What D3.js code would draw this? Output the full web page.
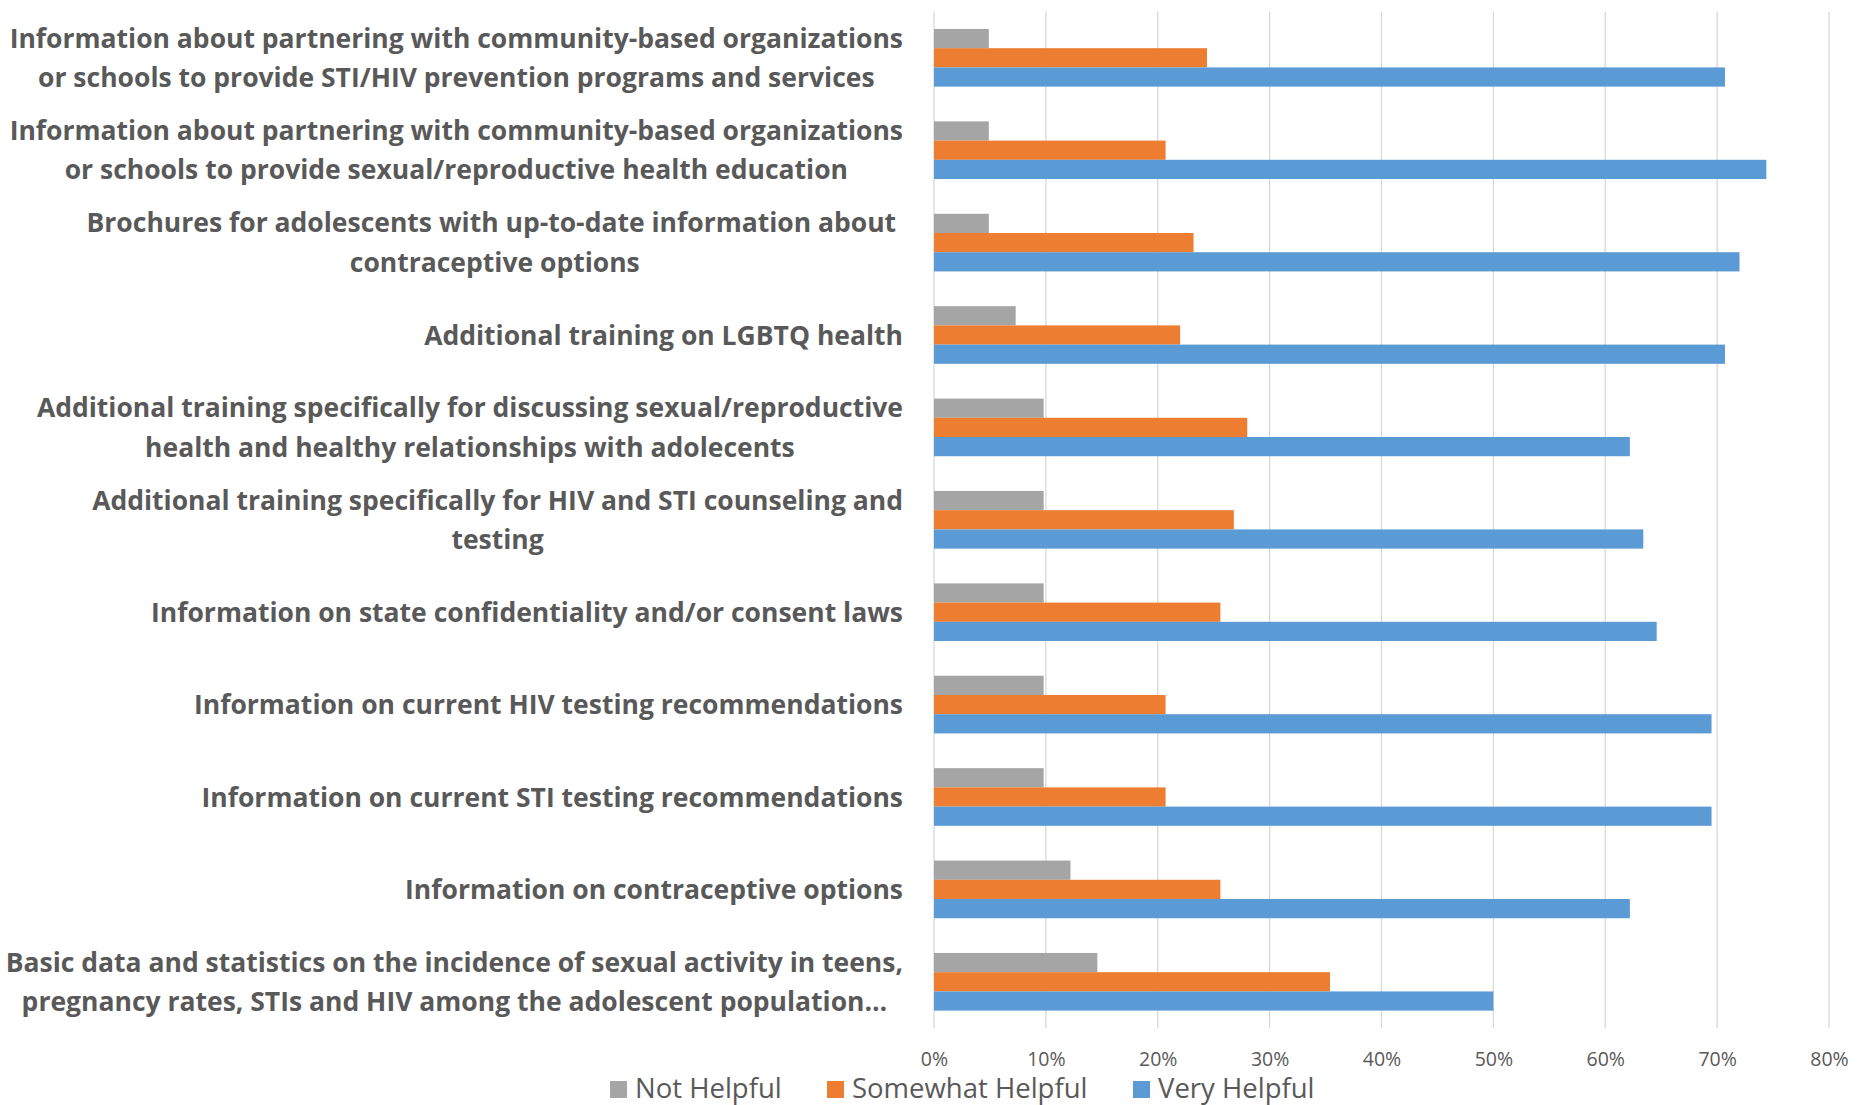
<!DOCTYPE html>
<html>
<head>
<meta charset="utf-8">
<script src="https://cdn.jsdelivr.net/npm/d3@7"></script>
<style>
    body { margin: 0; background: #ffffff; }
    text { font-family: "Open Sans", sans-serif; fill: #595959; }
</style>
</head>
<body>
<div id="chart"></div>
<script>
// Category labels, already broken into lines as in the reference
const categories = [
    ["Information about partnering with community-based organizations", "or schools to provide STI/HIV prevention programs and services"],
    ["Information about partnering with community-based organizations", "or schools to provide sexual/reproductive health education"],
    ["Brochures for adolescents with up-to-date information about ", "contraceptive options"],
    ["Additional training on LGBTQ health"],
    ["Additional training specifically for discussing sexual/reproductive", "health and healthy relationships with adolecents"],
    ["Additional training specifically for HIV and STI counseling and", "testing"],
    ["Information on state confidentiality and/or consent laws"],
    ["Information on current HIV testing recommendations"],
    ["Information on current STI testing recommendations"],
    ["Information on contraceptive options"],
    ["Basic data and statistics on the incidence of sexual activity in teens,", "pregnancy rates, STIs and HIV among the adolescent population\u2026"]
];

// Percent values per series (same order as categories)
const notHelpful      = [4.9, 4.9, 4.9, 7.3, 9.8, 9.8, 9.8, 9.8, 9.8, 12.2, 14.6];
const somewhatHelpful = [24.4, 20.7, 23.2, 22.0, 28.0, 26.8, 25.6, 20.7, 20.7, 25.6, 35.4];
const veryHelpful     = [70.7, 74.4, 72.0, 70.7, 62.2, 63.4, 64.6, 69.5, 69.5, 62.2, 50.0];

const seriesNames  = ["Not Helpful", "Somewhat Helpful", "Very Helpful"];
const seriesColors = ["#A5A5A5", "#ED7D31", "#5B9BD5"];
const tickValues   = [0, 10, 20, 30, 40, 50, 60, 70, 80];

const width = 1876;
const height = 1105;
const plot = { left: 934, right: 1829, top: 11.6, bottom: 1028 };

const seriesValues = [notHelpful, somewhatHelpful, veryHelpful];
const rows = categories.map((lines, i) => ({
    index: i,
    lines: lines,
    values: seriesValues.map((arr, s) => ({ series: s, value: arr[i] }))
}));

const svg = d3.select("#chart").append("svg")
    .attr("width", width)
    .attr("height", height);

const x = d3.scaleLinear()
    .domain([0, 80])
    .range([plot.left, plot.right]);

const y = d3.scaleBand()
    .domain(d3.range(categories.length))
    .range([plot.top, plot.bottom])
    .paddingInner(0.376)
    .paddingOuter(0.188);

const ySub = d3.scaleBand()
    .domain(d3.range(seriesNames.length))
    .range([0, y.bandwidth()]);

// gridlines
svg.append("g")
    .selectAll("line")
    .data(tickValues)
    .enter().append("line")
    .attr("x1", d => x(d))
    .attr("x2", d => x(d))
    .attr("y1", plot.top)
    .attr("y2", plot.bottom)
    .style("stroke", "#d9d9d9")
    .style("stroke-width", 1.3);

// bars
const groups = svg.append("g")
    .selectAll("g")
    .data(rows)
    .enter().append("g")
    .attr("transform", d => `translate(0,${y(d.index)})`);

groups.selectAll("rect")
    .data(d => d.values)
    .enter().append("rect")
    .attr("x", x(0))
    .attr("y", d => ySub(d.series))
    .attr("width", d => x(d.value) - x(0))
    .attr("height", ySub.bandwidth())
    .style("fill", d => seriesColors[d.series]);

// x tick labels
const xAxis = d3.axisBottom(x)
    .tickValues(tickValues)
    .tickFormat(d => d + "%")
    .tickSize(0)
    .tickPadding(0);

const axisG = svg.append("g")
    .attr("transform", "translate(0,1051)")
    .call(xAxis);
axisG.select(".domain").remove();
axisG.selectAll("text")
    .attr("dy", "0.75em")
    .style("font-family", "\"Open Sans\", sans-serif")
    .style("font-size", "19.5px")
    .style("fill", "#595959");

// category labels: lines centered on each other, block right-aligned
const labelRight = 903;
const lineHeight = 39.5;

const labels = svg.append("g")
    .selectAll("text")
    .data(rows)
    .enter().append("text")
    .style("font-size", "26.5px")
    .style("font-weight", 700)
    .style("white-space", "pre")
    .attr("text-anchor", "middle");

labels.each(function (d) {
    const t = d3.select(this);
    const n = d.lines.length;
    const cy = y(d.index) + y.bandwidth() / 2;
    d.lines.forEach((line, k) => {
        t.append("tspan")
            .attr("y", cy + (k - (n - 1) / 2) * lineHeight)
            .attr("dy", "0.36em")
            .text(line);
    });
    let maxW = 0;
    t.selectAll("tspan").each(function () {
        maxW = Math.max(maxW, this.getComputedTextLength());
    });
    t.selectAll("tspan").attr("x", labelRight - maxW / 2);
});

// legend
const legendX = [610, 827, 1133];
const legend = svg.append("g")
    .selectAll("g")
    .data(seriesNames)
    .enter().append("g")
    .attr("transform", (d, i) => `translate(${legendX[i]},1081)`);

legend.append("rect")
    .attr("width", 17)
    .attr("height", 17)
    .style("fill", (d, i) => seriesColors[i]);

legend.append("text")
    .attr("x", 25)
    .attr("y", 17)
    .style("font-size", "27.5px")
    .text(d => d);
</script>
</body>
</html>
